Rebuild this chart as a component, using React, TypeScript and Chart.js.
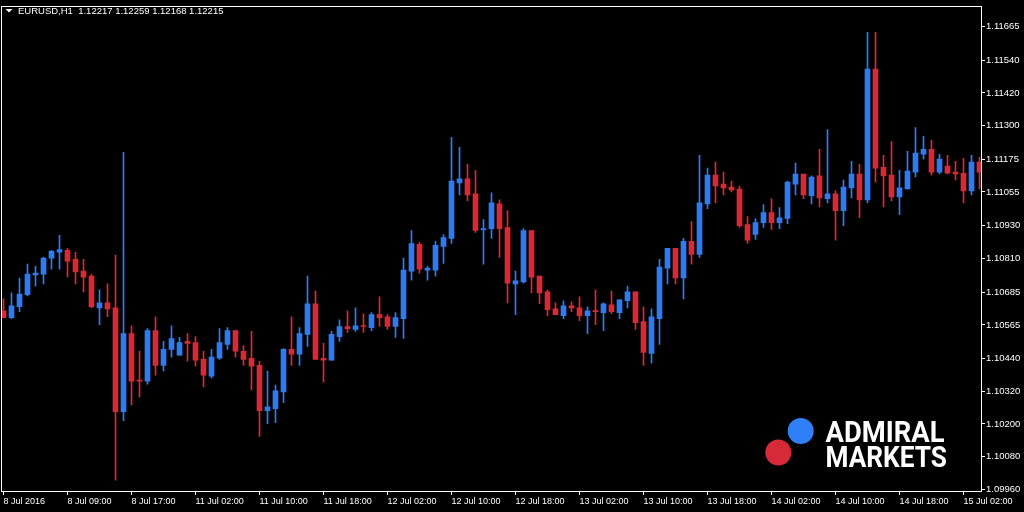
import React, { useEffect, useRef } from 'react';
import { Chart, registerables } from 'chart.js';
Chart.register(...registerables);

const open = [
  1.10617, 1.10592, 1.10632, 1.10676, 1.10749, 1.10752, 1.10811, 1.10833, 1.10840, 1.10807,
  1.10763, 1.10745, 1.10628, 1.10646, 1.10628, 1.10245, 1.10533, 1.10362, 1.10358, 1.10544,
  1.10416, 1.10475, 1.10453, 1.10504, 1.10500, 1.10438, 1.10376, 1.10442, 1.10493, 1.10544,
  1.10468, 1.10442, 1.10416, 1.10249, 1.10256, 1.10318, 1.10475, 1.10457, 1.10530, 1.10643,
  1.10442, 1.10435, 1.10522, 1.10559, 1.10548, 1.10562, 1.10555, 1.10603, 1.10595, 1.10559,
  1.10588, 1.10763, 1.10862, 1.10767, 1.10767, 1.10854, 1.10884, 1.11088, 1.11103, 1.11048,
  1.10916, 1.10920, 1.11011, 1.10924, 1.10716, 1.10723, 1.10913, 1.10745, 1.10687, 1.10624,
  1.10599, 1.10635, 1.10628, 1.10599, 1.10617, 1.10610, 1.10639, 1.10610, 1.10654, 1.10687,
  1.10577, 1.10460, 1.10588, 1.10774, 1.10847, 1.10738, 1.10873, 1.10825, 1.11011, 1.11117,
  1.11084, 1.11073, 1.11066, 1.10935, 1.10898, 1.10942, 1.10979, 1.10942, 1.10957, 1.11084,
  1.11121, 1.11041, 1.11114, 1.11030, 1.11048, 1.10986, 1.11070, 1.11121, 1.11026, 1.11508,
  1.11146, 1.11117, 1.11037, 1.11066, 1.11128, 1.11194, 1.11212, 1.11128, 1.11150, 1.11128,
  1.11124, 1.11059, 1.11165,
];

const high = [
  1.10661, 1.10683, 1.10738, 1.10789, 1.10781, 1.10814, 1.10840, 1.10895, 1.10847, 1.10833,
  1.10807, 1.10752, 1.10694, 1.10716, 1.10822, 1.11201, 1.10562, 1.10468, 1.10551, 1.10595,
  1.10504, 1.10562, 1.10519, 1.10533, 1.10522, 1.10468, 1.10475, 1.10551, 1.10555, 1.10544,
  1.10489, 1.10541, 1.10431, 1.10395, 1.10343, 1.10478, 1.10595, 1.10555, 1.10745, 1.10690,
  1.10497, 1.10541, 1.10584, 1.10617, 1.10628, 1.10606, 1.10610, 1.10668, 1.10603, 1.10610,
  1.10811, 1.10913, 1.10869, 1.10781, 1.10873, 1.10898, 1.11256, 1.11219, 1.11157, 1.11135,
  1.10953, 1.11052, 1.11026, 1.10986, 1.10763, 1.10920, 1.10913, 1.10745, 1.10694, 1.10646,
  1.10654, 1.10650, 1.10668, 1.10632, 1.10694, 1.10646, 1.10690, 1.10657, 1.10708, 1.10687,
  1.10632, 1.10624, 1.10807, 1.10847, 1.10847, 1.10884, 1.10946, 1.11190, 1.11143, 1.11165,
  1.11128, 1.11095, 1.11077, 1.10964, 1.10957, 1.11008, 1.11030, 1.10997, 1.11095, 1.11161,
  1.11121, 1.11114, 1.11212, 1.11285, 1.11059, 1.11099, 1.11168, 1.11157, 1.11643, 1.11643,
  1.11190, 1.11241, 1.11135, 1.11205, 1.11292, 1.11260, 1.11245, 1.11194, 1.11190, 1.11168,
  1.11179, 1.11190, 1.11183,
];

const low = [
  1.10592, 1.10588, 1.10614, 1.10672, 1.10708, 1.10716, 1.10770, 1.10770, 1.10741, 1.10716,
  1.10687, 1.10628, 1.10566, 1.10595, 1.09993, 1.10212, 1.10270, 1.10300, 1.10347, 1.10380,
  1.10395, 1.10446, 1.10453, 1.10431, 1.10413, 1.10336, 1.10369, 1.10438, 1.10475, 1.10446,
  1.10416, 1.10325, 1.10154, 1.10201, 1.10205, 1.10278, 1.10416, 1.10416, 1.10486, 1.10438,
  1.10354, 1.10435, 1.10504, 1.10537, 1.10541, 1.10537, 1.10544, 1.10559, 1.10548, 1.10519,
  1.10515, 1.10730, 1.10756, 1.10730, 1.10745, 1.10792, 1.10865, 1.11044, 1.11022, 1.10906,
  1.10789, 1.10884, 1.10814, 1.10646, 1.10603, 1.10719, 1.10683, 1.10643, 1.10599, 1.10603,
  1.10588, 1.10614, 1.10581, 1.10533, 1.10566, 1.10544, 1.10606, 1.10588, 1.10628, 1.10548,
  1.10416, 1.10424, 1.10493, 1.10716, 1.10716, 1.10661, 1.10789, 1.10814, 1.10993, 1.11015,
  1.11044, 1.11055, 1.10924, 1.10865, 1.10880, 1.10924, 1.10916, 1.10920, 1.10938, 1.11044,
  1.11030, 1.11011, 1.11000, 1.11015, 1.10877, 1.10931, 1.11033, 1.10960, 1.11015, 1.11091,
  1.11000, 1.11022, 1.10971, 1.11066, 1.11110, 1.11176, 1.11117, 1.11121, 1.11121, 1.11099,
  1.11015, 1.11044, 1.11066,
];

const close = [
  1.10592, 1.10635, 1.10679, 1.10752, 1.10756, 1.10811, 1.10836, 1.10843, 1.10800, 1.10760,
  1.10741, 1.10632, 1.10646, 1.10624, 1.10245, 1.10533, 1.10358, 1.10358, 1.10544, 1.10416,
  1.10475, 1.10515, 1.10500, 1.10497, 1.10435, 1.10380, 1.10446, 1.10500, 1.10544, 1.10468,
  1.10438, 1.10413, 1.10249, 1.10263, 1.10322, 1.10475, 1.10457, 1.10533, 1.10643, 1.10438,
  1.10435, 1.10530, 1.10559, 1.10551, 1.10562, 1.10559, 1.10603, 1.10592, 1.10559, 1.10592,
  1.10767, 1.10865, 1.10770, 1.10774, 1.10858, 1.10887, 1.11095, 1.11103, 1.11044, 1.10913,
  1.10920, 1.11015, 1.10920, 1.10719, 1.10727, 1.10913, 1.10741, 1.10683, 1.10621, 1.10603,
  1.10635, 1.10628, 1.10599, 1.10617, 1.10614, 1.10643, 1.10614, 1.10657, 1.10687, 1.10573,
  1.10464, 1.10595, 1.10778, 1.10847, 1.10738, 1.10873, 1.10825, 1.11015, 1.11117, 1.11077,
  1.11070, 1.11062, 1.10931, 1.10877, 1.10942, 1.10979, 1.10942, 1.10960, 1.11091, 1.11121,
  1.11044, 1.11110, 1.11033, 1.11048, 1.10986, 1.11073, 1.11121, 1.11026, 1.11508, 1.11143,
  1.11114, 1.11037, 1.11070, 1.11132, 1.11198, 1.11212, 1.11128, 1.11176, 1.11124, 1.11121,
  1.11059, 1.11165, 1.11128,
];

const xTickIndex = [0, 8, 16, 24, 32, 40, 48, 56, 64, 72, 80, 88, 96, 104, 112, 120];
const xTickLabels = [
  '8 Jul 2016', '8 Jul 09:00', '8 Jul 17:00', '11 Jul 02:00', '11 Jul 10:00', '11 Jul 18:00',
  '12 Jul 02:00', '12 Jul 10:00', '12 Jul 18:00', '13 Jul 02:00', '13 Jul 10:00', '13 Jul 18:00',
  '14 Jul 02:00', '14 Jul 10:00', '14 Jul 18:00', '15 Jul 02:00',
];
const yTickValues = [
  1.0996, 1.1008, 1.102, 1.1032, 1.1044, 1.10565, 1.10685, 1.1081,
  1.1093, 1.11055, 1.11175, 1.113, 1.1142, 1.1154, 1.11665,
];

const headerText = 'EURUSD,H1  1.12217 1.12259 1.12168 1.12215';
const logoLine1 = 'ADMIRAL';
const logoLine2 = 'MARKETS';

const BULL = '#2f7cf2';
const BEAR = '#d92a36';
const FONT = '"Liberation Sans", Arial, sans-serif';

const overlayPlugin = {
  id: 'overlay',
  beforeDraw(chart: any) {
    const ctx = chart.ctx;
    ctx.save();
    ctx.fillStyle = '#000';
    ctx.fillRect(0, 0, chart.width, chart.height);
    ctx.restore();
  },
  afterDraw(chart: any) {
    const ctx = chart.ctx;
    const a = chart.chartArea;
    ctx.save();
    // frame
    ctx.strokeStyle = '#fff';
    ctx.lineWidth = 1;
    ctx.strokeRect(Math.round(a.left) - 0.5, Math.round(a.top) - 0.5, Math.round(a.right - a.left) + 1, Math.round(a.bottom - a.top) + 1);
    // header
    ctx.fillStyle = '#fff';
    ctx.beginPath();
    ctx.moveTo(5.5, 9);
    ctx.lineTo(12.5, 9);
    ctx.lineTo(9, 12.5);
    ctx.closePath();
    ctx.fill();
    ctx.font = `9.5px ${FONT}`;
    ctx.textBaseline = 'alphabetic';
    ctx.textAlign = 'left';
    ctx.fillText(headerText, 18, 14);
    // logo
    ctx.fillStyle = '#2f80f6';
    ctx.beginPath();
    ctx.arc(800.7, 431, 13, 0, Math.PI * 2);
    ctx.fill();
    ctx.fillStyle = '#d62a38';
    ctx.beginPath();
    ctx.arc(778.3, 452.5, 13, 0, Math.PI * 2);
    ctx.fill();
    ctx.fillStyle = '#fff';
    ctx.font = `bold 29px Roboto, "Open Sans", sans-serif`;
    ctx.fillText(logoLine1, 825.5, 441.5, 119);
    ctx.fillText(logoLine2, 825.5, 467, 121.5);
    ctx.restore();
  },
};

export default function App() {
  const ref = useRef<HTMLCanvasElement>(null);
  useEffect(() => {
    document.body.style.margin = '0';
    document.body.style.background = '#000';
    const idx = open.map((_, i) => i);
    const colors = idx.map((i) => (close[i] >= open[i] ? BULL : BEAR));
    const chart = new Chart(ref.current as HTMLCanvasElement, {
      type: 'bar',
      data: {
        datasets: [
          {
            data: idx.map((i) => ({ x: i, y: [low[i], high[i]] })) as any,
            backgroundColor: colors,
            barThickness: 1,
            grouped: false,
            borderWidth: 0,
            clip: 0,
          } as any,
          {
            data: idx.map((i) => ({ x: i, y: [open[i], close[i]] })) as any,
            backgroundColor: colors,
            barThickness: 5,
            grouped: false,
            minBarLength: 1,
            borderWidth: 0,
            clip: 0,
          } as any,
        ],
      },
      options: {
        animation: false,
        responsive: false,
        events: [],
        layout: { padding: { top: 2, left: 2, right: 0, bottom: 0 } },
        plugins: { legend: { display: false }, tooltip: { enabled: false }, title: { display: false } },
        scales: {
          x: {
            type: 'linear',
            offset: false,
            min: -0.1875,
            max: 122.1875,
            afterBuildTicks: (s: any) => {
              s.ticks = xTickIndex.map((v) => ({ value: v }));
            },
            afterFit: (s: any) => {
              s.height = 21;
            },
            grid: { offset: false, drawOnChartArea: false, drawTicks: true, tickLength: 4, color: '#fff' },
            border: { display: false },
            ticks: {
              color: '#fff',
              font: { family: FONT, size: 9 },
              padding: 1,
              align: 'start',
              maxRotation: 0,
              minRotation: 0,
              autoSkip: false,
              callback: (_v: any, i: number) => xTickLabels[i],
            },
          },
          y: {
            position: 'right',
            min: 1.0995285,
            max: 1.117377,
            afterBuildTicks: (s: any) => {
              s.ticks = yTickValues.map((v) => ({ value: v }));
            },
            afterFit: (s: any) => {
              s.width = 43;
            },
            grid: { drawOnChartArea: false, drawTicks: true, tickLength: 4, color: '#fff' },
            border: { display: false },
            ticks: {
              color: '#fff',
              font: { family: FONT, size: 9.5 },
              padding: 1,
              autoSkip: false,
              callback: (v: any) => Number(v).toFixed(5),
            },
          },
        },
      } as any,
      plugins: [overlayPlugin],
    });
    return () => chart.destroy();
  }, []);
  return (
    <div style={{ width: 1024, height: 512, background: '#000' }}>
      <canvas ref={ref} width={1024} height={512} style={{ display: 'block', width: 1024, height: 512 }} />
    </div>
  );
}
